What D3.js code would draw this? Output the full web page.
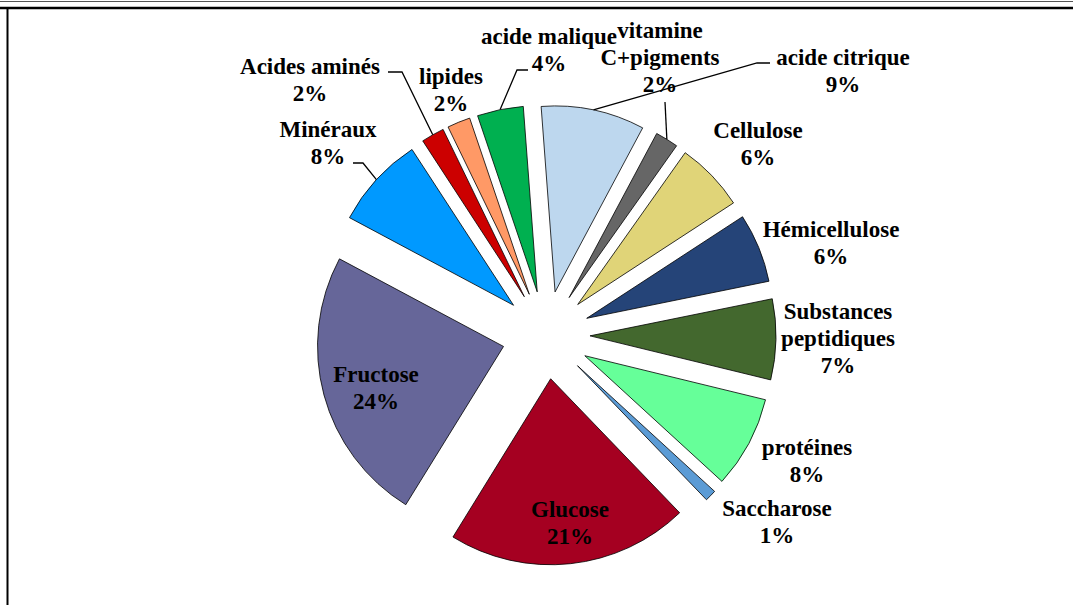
<!DOCTYPE html>
<html>
<head>
<meta charset="utf-8">
<script src="https://cdn.jsdelivr.net/npm/d3@7/dist/d3.min.js"></script>
<style>
  html, body { margin: 0; padding: 0; background: #fff; }
  svg { display: block; }
  text { font-family: "Liberation Serif", "Times New Roman", serif; font-weight: bold; fill: #000; }
</style>
</head>
<body>
<svg id="chart" width="1073" height="605"></svg>
<script>
// Composition (%) — slices listed clockwise from the top
const categories = [
  "acide citrique", "vitamine C+pigments", "Cellulose", "Hémicellulose",
  "Substances peptidiques", "protéines", "Saccharose", "Glucose",
  "Fructose", "Minéraux", "Acides aminés", "lipides", "acide malique"
];
const values = [9, 2, 6, 6, 7, 8, 1, 21, 24, 8, 2, 2, 4];
const labelLines = [
  ["acide citrique"], ["vitamine", "C+pigments"], ["Cellulose"], ["Hémicellulose"],
  ["Substances", "peptidiques"], ["protéines"], ["Saccharose"], ["Glucose"],
  ["Fructose"], ["Minéraux"], ["Acides aminés"], ["lipides"], ["acide malique"]
];
const colors = [
  "#BDD7EE", "#666666", "#E0D478", "#254478",
  "#43682E", "#66FF99", "#5B9BD5", "#A50021",
  "#666699", "#0099FF", "#CC0000", "#FF9966", "#00B050"
];

// Label placement relative to the pie centre: [dx of text centre, dy of first baseline]
const labelPos = [
  [297, -270], [114, -297], [212, -197], [285, -98],
  [292, -16], [261, 120], [231, 181], [24, 182],
  [-170, 47], [-218, -198], [-236, -261], [-95, -251], [3, -291]
];
// Leader lines: [elbow, end] relative to the pie centre (null = no leader)
const leaders = [
  [[211, -272], [224, -272]],
  [null, [119, -233]],
  null, null, null, null, null, null, null,
  [[-183, -172], [-193, -172]],
  [[-144, -263], [-158, -263]],
  null,
  [[-29, -265], [-18, -265]]
];

const svg = d3.select("#chart");
const cx = 546, cy = 335, R = 186, explode = 44, lineH = 27;
const deg = Math.PI / 180;

// frame
svg.append("line").attr("x1", 0).attr("x2", 1073).attr("y1", 1.5).attr("y2", 1.5)
  .attr("stroke", "#555").attr("stroke-width", 1.2);
svg.append("line").attr("x1", 0).attr("x2", 1073).attr("y1", 8).attr("y2", 8)
  .attr("stroke", "#000").attr("stroke-width", 2.6);
svg.append("line").attr("x1", 7.5).attr("x2", 7.5).attr("y1", 8).attr("y2", 605)
  .attr("stroke", "#000").attr("stroke-width", 2);

const start = -4.3 * deg;
const pie = d3.pie().sort(null).value(d => d)
  .startAngle(start).endAngle(start + 2 * Math.PI);
const arcs = pie(values);
const arc = d3.arc().innerRadius(0).outerRadius(R);

const g = svg.append("g").attr("transform", `translate(${cx},${cy})`);

const mid = a => (a.startAngle + a.endAngle) / 2;
const offset = a => [explode * Math.sin(mid(a)), -explode * Math.cos(mid(a))];

g.selectAll("path.slice").data(arcs).join("path")
  .attr("class", "slice")
  .attr("transform", a => `translate(${offset(a)[0]},${offset(a)[1]})`)
  .attr("d", arc)
  .attr("fill", (a, i) => colors[i])
  .attr("stroke", "#000")
  .attr("stroke-width", 0.8)
  .attr("stroke-linejoin", "round");

// leader lines from the outer arc midpoint
arcs.forEach((a, i) => {
  const L = leaders[i];
  if (!L) return;
  const m = mid(a), rr = R + explode;
  const pts = [[rr * Math.sin(m), -rr * Math.cos(m)]];
  if (L[0]) pts.push(L[0]);
  pts.push(L[1]);
  g.append("path")
    .attr("d", d3.line()(pts))
    .attr("fill", "none").attr("stroke", "#000").attr("stroke-width", 1.3);
});

// labels
arcs.forEach((a, i) => {
  const lines = labelLines[i].concat([values[i] + "%"]);
  const t = g.append("text")
    .attr("text-anchor", "middle")
    .attr("font-size", 23)
    .attr("x", labelPos[i][0]).attr("y", labelPos[i][1]);
  lines.forEach((s, k) => {
    t.append("tspan").attr("x", labelPos[i][0]).attr("y", labelPos[i][1] + k * lineH).text(s);
  });
});
</script>
</body>
</html>
